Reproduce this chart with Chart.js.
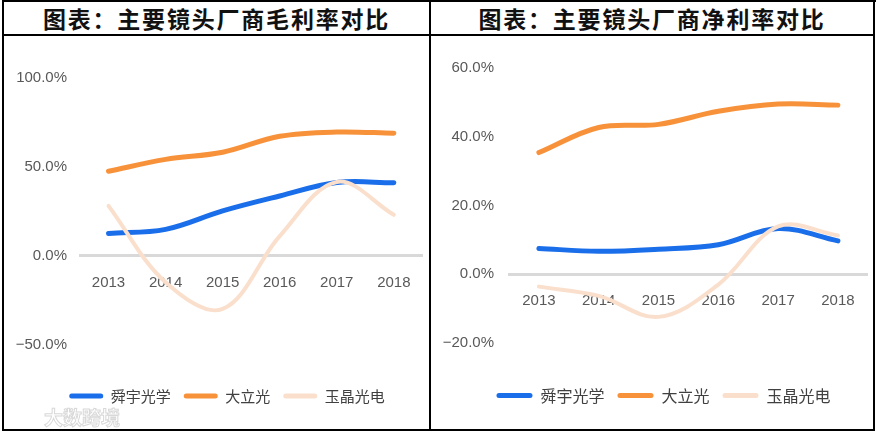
<!DOCTYPE html>
<html><head><meta charset="utf-8">
<script src="https://cdn.jsdelivr.net/npm/chart.js@4.4.1/dist/chart.umd.min.js"></script>
<style>
html,body{margin:0;padding:0;background:#fff;}
#wrap{position:relative;width:877px;height:435px;overflow:hidden;background:#fff;}
.ln{position:absolute;background:#000;}
.title{position:absolute;top:2px;height:32px;line-height:32px;text-align:center;font-family:'Noto Sans CJK SC',sans-serif;font-weight:700;font-size:23px;letter-spacing:1.8px;color:#111;white-space:nowrap;}
.cv{position:absolute;}
#wm{position:absolute;left:44px;top:403px;font-family:'Noto Sans CJK SC',sans-serif;font-size:19px;font-weight:700;color:#fff;-webkit-text-stroke:1px #d8d8d8;}
</style></head>
<body><div id="wrap">
<div class="ln" style="left:2px;top:0;width:874px;height:2px"></div>
<div class="ln" style="left:2px;top:0;width:2px;height:431px"></div>
<div class="ln" style="left:873px;top:0;width:2px;height:431px"></div>
<div class="ln" style="left:2px;top:429px;width:873px;height:2px"></div>
<div class="ln" style="left:429px;top:0;width:2px;height:431px"></div>
<div class="ln" style="left:2px;top:34px;width:873px;height:2px"></div>
<div class="title" style="left:4px;width:425px">图表：主要镜头厂商毛利率对比</div>
<div class="title" style="left:431px;width:442px">图表：主要镜头厂商净利率对比</div>
<div class="cv" style="left:4px;top:36px;width:425px;height:393px"><canvas id="c1"></canvas></div>
<div class="cv" style="left:431px;top:36px;width:442px;height:393px"><canvas id="c2"></canvas></div>
<div id="wm">大数跨境</div>
</div>
<script>
const years = ['2013', '2014', '2015', '2016', '2017', '2018'];
const seriesNames = ['舜宇光学', '大立光', '玉晶光电'];
const grossSunny = [12.5, 14.8, 25.2, 33.6, 41.2, 41.0];
const grossLargan = [47.5, 54.2, 58.2, 67.2, 69.6, 68.9];
const grossGenius = [28, -15, -30, 11, 41.5, 23];
const netSunny = [7.5, 6.7, 7.3, 8.6, 13.3, 9.7];
const netLargan = [35.4, 42.7, 43.6, 47.4, 49.5, 49.2];
const netGenius = [-3.6, -6.3, -12.4, -3.0, 13.9, 11.3];
const grossTicks = [-50, 0, 50, 100];
const netTicks = [-20, 0, 20, 40, 60];

const colors = ['#1A6EEA', '#F8923A', '#FADFCC'];
const widths = [5, 5, 4];
const orders = [1, 2, 0];
const tickFont = {family: "'Liberation Sans', Arial, sans-serif", size: 15};

function fmt(v) {
  const s = Math.abs(v).toFixed(1) + '%';
  return v < 0 ? '\u2212' + s : s;
}

const legendShift = {
  id: 'legendShift',
  afterLayout(chart, args, opts) {
    const l = chart.legend;
    if (l) { l.left += opts.dx; l.right += opts.dx; }
  }
};

function makeChart(id, seriesData, ticks, cfg) {
  const datasets = seriesData.map((d, i) => ({
    label: seriesNames[i],
    data: d,
    borderColor: colors[i],
    backgroundColor: colors[i],
    borderWidth: widths[i],
    borderCapStyle: 'round',
    borderJoinStyle: 'round',
    pointRadius: 0,
    pointHoverRadius: 0,
    tension: 0.36,
    order: orders[i],
    fill: false
  }));
  return new Chart(document.getElementById(id), {
    type: 'line',
    data: {labels: years, datasets},
    plugins: [legendShift],
    options: {
      responsive: true,
      maintainAspectRatio: false,
      animation: false,
      devicePixelRatio: 1,
      layout: {padding: {left: 0, right: cfg.padRight, top: cfg.padTop, bottom: 15.5}},
      plugins: {
        tooltip: {enabled: false},
        legendShift: {dx: cfg.legendDx},
        legend: {
          position: 'bottom',
          title: {display: true, text: '', font: {size: 10}, padding: {top: cfg.legendGap, bottom: 0}},
          labels: {
            boxWidth: cfg.boxW,
            boxHeight: 5,
            padding: 13,
            color: '#404040',
            font: {family: "'Noto Sans CJK SC', sans-serif", size: cfg.legendSize},
            sort: (a, b) => a.datasetIndex - b.datasetIndex,
            generateLabels: (chart) => Chart.defaults.plugins.legend.labels.generateLabels(chart).map(l => {
              l.fillStyle = colors[l.datasetIndex];
              l.lineWidth = 0;
              l.borderRadius = 2.5;
              return l;
            })
          }
        }
      },
      scales: {
        x: {
          type: 'category',
          position: {y: 0},
          offset: true,
          grid: {display: false, drawTicks: false},
          border: {display: true, color: '#D9D9D9', width: 3},
          ticks: {font: tickFont, color: '#595959', padding: 18, maxRotation: 0, autoSkip: false}
        },
        y: {
          min: ticks[0],
          max: ticks[ticks.length - 1],
          afterBuildTicks: (s) => { s.ticks = ticks.map(v => ({value: v})); },
          afterFit: (s) => { s.width = cfg.axisWidth; },
          grid: {display: false, drawTicks: false},
          border: {display: false},
          ticks: {font: tickFont, color: '#595959', padding: cfg.tickPad, callback: (v) => fmt(v)}
        }
      }
    }
  });
}

makeChart('c1', [grossSunny, grossLargan, grossGenius], grossTicks,
  {padRight: 6, padTop: 42, axisWidth: 76, tickPad: 13, legendGap: 19, legendDx: 13.5,
   boxW: 34, legendSize: 15});
makeChart('c2', [netSunny, netLargan, netGenius], netTicks,
  {padRight: 5, padTop: 32, axisWidth: 78, tickPad: 15, legendGap: 19.5, legendDx: 14,
   boxW: 36, legendSize: 16});
</script>
</body></html>
